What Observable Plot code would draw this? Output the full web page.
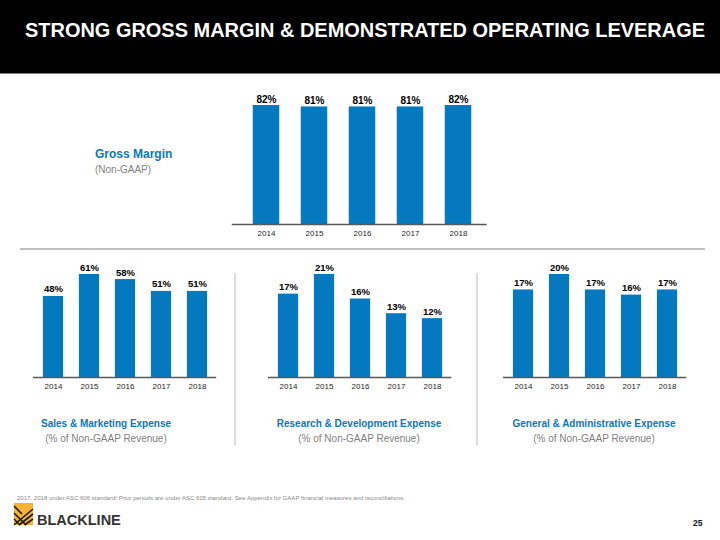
<!DOCTYPE html>
<html><head><meta charset="utf-8">
<script src="https://cdn.jsdelivr.net/npm/d3@7"></script>
<script src="https://cdn.jsdelivr.net/npm/@observablehq/plot@0.6"></script>
<style>
body{margin:0;background:#fff;}
#slide{position:relative;width:720px;height:540px;overflow:hidden;font-family:"Liberation Sans",Arial,Helvetica,sans-serif;background:#fff;}
#slide svg{position:absolute;left:0;top:0;}
.ct{position:absolute;transform:translateX(-50%);text-align:center;white-space:nowrap;}
.ct .t{font-weight:bold;color:#0d77be;font-size:10px;line-height:12px;}
.ct .s{color:#7f7f7f;font-size:10px;line-height:12px;margin-top:3px;}
.gm{position:absolute;left:95px;top:147px;white-space:nowrap;}
.gm .t{font-weight:bold;color:#0d77be;font-size:12px;line-height:14px;}
.gm .s{color:#7f7f7f;font-size:10px;line-height:12px;margin-top:3px;}
.hr{position:absolute;left:20px;top:248px;width:685px;height:1.5px;background:#c0c0c0;}
.vr{position:absolute;top:273px;width:1.5px;height:172px;background:#dcdcdc;}
</style></head>
<body><div id="slide">
<div style="position:absolute;left:0;top:0;width:720px;height:73px;background:#000;border-bottom:1px solid #808080;"></div>
<div class="hr"></div>
<div class="vr" style="left:234px"></div>
<div class="vr" style="left:476px"></div>
<div class="gm"><div class="t" id="gmT"></div><div class="s" id="gmS"></div></div>
<div class="ct" style="left:106px;top:418px"><div class="t" id="t0"></div><div class="s" id="s0"></div></div>
<div class="ct" style="left:359px;top:418px"><div class="t" id="t1"></div><div class="s" id="s1"></div></div>
<div class="ct" style="left:594px;top:418px"><div class="t" id="t2"></div><div class="s" id="s2"></div></div>
<svg width="720" height="540" style="pointer-events:none">
  <text x="25" y="37" font-size="20" font-weight="bold" fill="#fff" textLength="680" lengthAdjust="spacingAndGlyphs" font-family="Liberation Sans, Arial, sans-serif">STRONG GROSS MARGIN &amp; DEMONSTRATED OPERATING LEVERAGE</text>
  <text x="17" y="499.5" font-size="6" fill="#8a8a8a" textLength="388" lengthAdjust="spacingAndGlyphs" font-family="Liberation Sans, Arial, sans-serif">2017, 2018 under ASC 606 standard/ Prior periods are under ASC 605 standard. See Appendix for GAAP financial measures and reconciliations.</text>
  <g>
    <rect x="14" y="503" width="19" height="22" fill="#f6b334"/>
    <g stroke="#1a1a1a" stroke-width="1.6" fill="none">
      <path d="M14 525 L33 509"/>
      <path d="M19 525 L33 514"/>
      <path d="M24.5 525 L33 519"/>
      <path d="M14 513 L26 525"/>
      <path d="M14 519 L20 525"/>
      <path d="M14 506 L22 514"/>
    </g>
  </g>
  <text x="37" y="524.5" font-size="14.5" font-weight="bold" fill="#333" font-family="Liberation Sans, Arial, sans-serif">BLACKLINE</text>
  <text x="693" y="525.5" font-size="8.5" font-weight="bold" fill="#111" font-family="Liberation Sans, Arial, sans-serif">25</text>
</svg>
</div>
<script>
const years = ["2014", "2015", "2016", "2017", "2018"];
const grossMargin = [82, 81, 81, 81, 82];
const salesMarketing = [48, 61, 58, 51, 51];
const researchDevelopment = [17, 21, 16, 13, 12];
const generalAdministrative = [17, 20, 17, 16, 17];
const panelTitles = ["Sales & Marketing Expense", "Research & Development Expense", "General & Administrative Expense"];
const panelSubtitle = "(% of Non-GAAP Revenue)";
const grossTitle = "Gross Margin";
const grossSubtitle = "(Non-GAAP)";

document.getElementById("gmT").textContent = grossTitle;
document.getElementById("gmS").textContent = grossSubtitle;
panelTitles.forEach((t, i) => {
  document.getElementById("t" + i).textContent = t;
  document.getElementById("s" + i).textContent = panelSubtitle;
});

const FONT = "Liberation Sans, Arial, Helvetica, sans-serif";
const BLUE = "#0579bf";

function barChart(values, o) {
  const data = years.map((y, i) => ({year: y, value: values[i]}));
  const chart = Plot.plot({
    width: 720,
    height: 540,
    marginLeft: o.x0,
    marginRight: 720 - o.x1,
    marginTop: o.top,
    marginBottom: 540 - o.base,
    x: {domain: years, padding: 0, tickSize: 0, tickPadding: 6, label: null},
    y: {domain: [0, d3.max(values)], axis: null},
    style: {background: "none", fontFamily: FONT, fontSize: o.tickSize + "px", color: "#262626", overflow: "visible"},
    marks: [
      Plot.barY(data, {x: "year", y: "value", fill: BLUE, insetLeft: o.inset, insetRight: o.inset}),
      Plot.ruleY([0], {stroke: "#595959", strokeWidth: 1.5, insetLeft: o.axL, insetRight: o.axR}),
      Plot.text(data, {x: "year", y: "value", text: d => d.value + "%", lineAnchor: "bottom", dy: o.dy, fontSize: o.labelSize, fontWeight: "bold", fill: "#000"})
    ]
  });
  document.getElementById("slide").appendChild(chart);
}

barChart(grossMargin, {x0: 240.75, x1: 483.25, top: 105, base: 224, inset: 10.75, axL: -9, axR: -3.5, dy: -3, labelSize: 10, tickSize: 8});
barChart(salesMarketing, {x0: 33.75, x1: 216.25, top: 274, base: 377, inset: 7.9, axL: -0.75, axR: 0, dy: -4, labelSize: 9.5, tickSize: 8});
barChart(researchDevelopment, {x0: 268.75, x1: 451.25, top: 274, base: 377, inset: 7.9, axL: -0.75, axR: 0, dy: -4, labelSize: 9.5, tickSize: 8});
barChart(generalAdministrative, {x0: 503.75, x1: 686.25, top: 274, base: 377, inset: 7.9, axL: -0.75, axR: 0, dy: -4, labelSize: 9.5, tickSize: 8});
</script>
</body></html>
